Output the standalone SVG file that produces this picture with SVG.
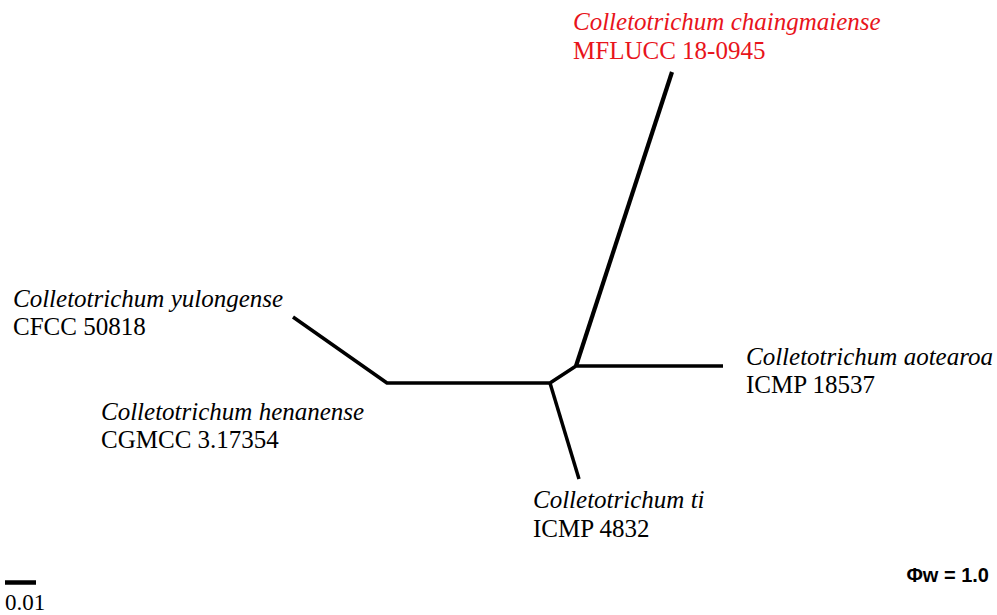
<svg xmlns="http://www.w3.org/2000/svg" width="997" height="615" viewBox="0 0 997 615">
<style>
.b{stroke:#000;stroke-width:3.5;fill:none;stroke-linecap:butt;stroke-linejoin:round}
.t{font-family:'Liberation Serif','Times New Roman',Times,serif;font-size:25px;fill:#000}
.i{font-style:italic}
.r{fill:#e8141b}
</style>
<rect width="997" height="615" fill="#fff"/>
<g id="connectors">
<polyline class="b" points="293,317 387,383 550,383 576,366 723,366"/>
<line class="b" x1="550" y1="383" x2="579" y2="479"/>
<line class="b" x1="576" y1="366" x2="672" y2="72" style="stroke-width:4.2"/>
</g>
<g id="chaingmaiense"><text class="t i r" x="573" y="30">Colletotrichum chaingmaiense</text><text class="t r" x="573" y="59">MFLUCC 18-0945</text></g>
<g id="yulongense"><text class="t i" x="13" y="307">Colletotrichum yulongense</text><text class="t" x="13" y="335">CFCC 50818</text></g>
<g id="henanense"><text class="t i" x="101" y="420">Colletotrichum henanense</text><text class="t" x="101" y="448">CGMCC 3.17354</text></g>
<g id="aotearoa"><text class="t i" x="746" y="365">Colletotrichum aotearoa</text><text class="t" x="746" y="393">ICMP 18537</text></g>
<g id="ti"><text class="t i" x="533" y="508">Colletotrichum ti</text><text class="t" x="533" y="537">ICMP 4832</text></g>
<g id="scale"><line x1="5" y1="582.5" x2="36" y2="582.5" stroke="#000" stroke-width="4.5"/><text class="t" x="5" y="610" style="font-size:23px">0.01</text></g>
<text x="989" y="582" text-anchor="end" font-family="'Liberation Sans',Arial,sans-serif" font-weight="bold" font-size="20">Φw = 1.0</text>
</svg>
